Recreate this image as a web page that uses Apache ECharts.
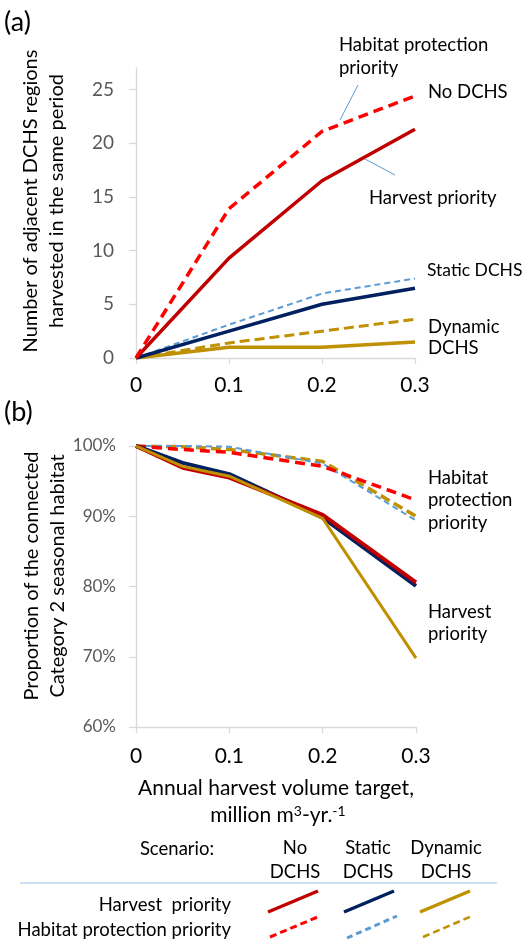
<!DOCTYPE html>
<html><head><meta charset="utf-8">
<script src="https://cdn.jsdelivr.net/npm/echarts@6/dist/echarts.min.js"></script>
<style>html,body{margin:0;padding:0;background:#fff}#c{width:526px;height:942px}</style>
</head><body><div id="c"></div>
<script>
// ---- data ----
const xA = [0, 0.1, 0.2, 0.3];
const xB = [0, 0.05, 0.1, 0.2, 0.3];
const xTicks = [0, 0.1, 0.2, 0.3];
const yTicksA = [0, 5, 10, 15, 20, 25];
const yTicksB = [60, 70, 80, 90, 100];
const scenarios = ['No DCHS', 'Static DCHS', 'Dynamic DCHS'];
// Panel (a): number of adjacent DCHS regions harvested in the same period
const aNoHarvest = [0, 9.3, 16.5, 21.3];
const aNoHabitat = [0, 13.9, 21.1, 24.4];
const aStaticHarvest = [0, 2.5, 5.0, 6.5];
const aStaticHabitat = [0, 3.1, 6.0, 7.4];
const aDynHarvest = [0, 1.0, 1.0, 1.5];
const aDynHabitat = [0, 1.4, 2.5, 3.6];
// Panel (b): proportion of connected Category 2 seasonal habitat (%)
const bNoHarvest = [100, 96.9, 95.5, 90.2, 80.6];
const bNoHabitat = [100, 99.5, 99.1, 97.1, 92.3];
const bStaticHarvest = [100, 97.6, 96.0, 89.8, 80.1];
const bStaticHabitat = [100, 100, 99.9, 97.5, 89.4];
const bDynHarvest = [100, 97.1, 95.7, 89.7, 69.8];
const bDynHabitat = [100, 99.9, 99.5, 97.8, 90.0];

const C_DR = '#C00000', C_R = '#FF0000', C_NV = '#002060', C_LB = '#5B9BD5', C_GD = '#BF9000';
const FF = 'Lato, "Open Sans", sans-serif';
const FS = '18.5px ' + FF;

function pts(xs, ys) { return xs.map((x, i) => [x, ys[i]]); }
function ser(idx, xs, ys, color, width, dash, z) {
  return { type: 'line', xAxisIndex: idx, yAxisIndex: idx, data: pts(xs, ys), symbol: 'none',
    smooth: false, z: z || 2, animation: false,
    lineStyle: { color: color, width: width, type: dash || 'solid', cap: 'butt', join: 'round' } };
}
const xFmt = v => (v === 0 ? '0' : (+v).toFixed(1));
function xAxisCfg(idx, margin) {
  return { type: 'value', gridIndex: idx, min: 0, max: 0.3, interval: 0.1,
    axisLine: { show: true, lineStyle: { color: '#D9D9D9', width: 1.3 } },
    axisTick: { show: true, length: 6, lineStyle: { color: '#D9D9D9', width: 1.3 } },
    splitLine: { show: false },
    axisLabel: { color: '#000', fontFamily: FF, fontSize: 21, margin: margin, formatter: xFmt,
      customValues: xTicks } };
}

const chart = echarts.init(document.getElementById('c'), null, { renderer: 'canvas' });
const txt = (x, y, s, o) => Object.assign({ type: 'text', x: x, y: y, silent: true,
  style: Object.assign({ text: s, fill: '#000', font: FS, textAlign: 'left', textVerticalAlign: 'middle' }, o || {}) });
const ln = (x1, y1, x2, y2, color, w, dash) => ({ type: 'line', silent: true, z: 10,
  shape: { x1: x1, y1: y1, x2: x2, y2: y2 },
  style: { stroke: color, lineWidth: w, lineDash: dash || null } });

chart.setOption({
  animation: false,
  backgroundColor: '#fff',
  grid: [
    { left: 136, top: 68, width: 279, height: 290 },
    { left: 136, top: 446, width: 280, height: 281 }
  ],
  xAxis: [xAxisCfg(0, 17), xAxisCfg(1, 19)],
  yAxis: [
    { type: 'value', gridIndex: 0, min: 0, max: 27, interval: 5,
      axisLine: { show: true, lineStyle: { color: '#D9D9D9', width: 1.3 } },
      axisTick: { show: true, length: 7, customValues: yTicksA, lineStyle: { color: '#D9D9D9', width: 1.3 } },
      splitLine: { show: false },
      axisLabel: { color: '#595959', fontFamily: FF, fontSize: 19, margin: 22, customValues: yTicksA } },
    { type: 'value', gridIndex: 1, min: 60, max: 100, interval: 10,
      axisLine: { show: true, lineStyle: { color: '#D9D9D9', width: 1.3 } },
      axisTick: { show: true, length: 7, customValues: yTicksB, lineStyle: { color: '#D9D9D9', width: 1.3 } },
      splitLine: { show: false },
      axisLabel: { color: '#595959', fontFamily: FF, fontSize: 17, margin: 20, customValues: yTicksB,
        formatter: v => v + '%' } }
  ],
  series: [
    ser(0, xA, aDynHarvest, C_GD, 3.5, null, 2),
    ser(0, xA, aDynHabitat, C_GD, 3, [10, 5], 3),
    ser(0, xA, aStaticHabitat, C_LB, 2, [6, 4], 3),
    ser(0, xA, aStaticHarvest, C_NV, 3.5, null, 4),
    ser(0, xA, aNoHarvest, C_DR, 3.5, null, 4),
    ser(0, xA, aNoHabitat, C_R, 3.5, [10, 6], 5),
    ser(1, xB, bDynHabitat, C_GD, 3.5, [10, 5], 2),
    ser(1, xB, bStaticHabitat, C_LB, 2, [6, 4], 3),
    ser(1, xB, bNoHabitat, C_R, 3.5, [10, 6], 3),
    ser(1, xB, bStaticHarvest, C_NV, 4, null, 4),
    ser(1, xB, bNoHarvest, C_DR, 4, null, 5),
    ser(1, xB, bDynHarvest, C_GD, 3, null, 6)
  ],
  graphic: [
    txt(4, 22, '(a)', { font: '27px ' + FF }),
    txt(4, 412, '(b)', { font: '27px ' + FF }),
    // axis names
    { type: 'text', x: 44, y: 201, rotation: Math.PI / 2, silent: true,
      style: { text: 'Number of adjacent DCHS regions\nharvested in the same period', fill: '#000',
        font: '20px ' + FF, textAlign: 'center', textVerticalAlign: 'middle', lineHeight: 26 } },
    { type: 'text', x: 45, y: 576, rotation: Math.PI / 2, silent: true,
      style: { text: 'Proportion of the connected\nCategory 2 seasonal habitat', fill: '#000',
        font: '20px ' + FF, textAlign: 'center', textVerticalAlign: 'middle', lineHeight: 26 } },
    // panel (a) annotations
    txt(339, 45, 'Habitat protection'),
    txt(339, 68, 'priority'),
    txt(428, 92, 'No DCHS'),
    txt(369, 198, 'Harvest priority'),
    txt(427, 270, 'Static DCHS', { font: '17.5px ' + FF }),
    txt(428, 327, 'Dynamic'),
    txt(428, 348, 'DCHS'),
    ln(358, 85, 340, 120, C_LB, 1),
    ln(365, 159, 395, 175, C_LB, 1),
    // panel (b) annotations
    txt(428, 478, 'Habitat'),
    txt(428, 500, 'protection'),
    txt(428, 523, 'priority'),
    txt(428, 612, 'Harvest'),
    txt(428, 634, 'priority'),
    // x axis title
    txt(276, 788, 'Annual harvest volume target,', { font: '21px ' + FF, textAlign: 'center' }),
    { type: 'text', x: 278, y: 815, silent: true,
      style: { text: '{n|million m}{s|3}{n|-yr.}{s|-1}', textAlign: 'center', textVerticalAlign: 'middle',
        rich: { n: { font: '21px ' + FF, fill: '#000' },
                s: { font: '14px ' + FF, fill: '#000', padding: [0, 0, 8, 0] } } } },
    // legend
    txt(177, 849, 'Scenario:', { textAlign: 'center' }),
    txt(295, 848, 'No', { textAlign: 'center' }),
    txt(295, 872, 'DCHS', { textAlign: 'center' }),
    txt(368, 848, 'Static', { textAlign: 'center' }),
    txt(368, 872, 'DCHS', { textAlign: 'center' }),
    txt(446, 848, 'Dynamic', { textAlign: 'center' }),
    txt(446, 872, 'DCHS', { textAlign: 'center' }),
    ln(20, 883, 497, 883, '#9DC3E6', 1.2),
    txt(231, 905, 'Harvest  priority', { textAlign: 'right' }),
    txt(231, 930, 'Habitat protection priority', { textAlign: 'right' }),
    ln(268, 912, 318, 891, C_DR, 3.5),
    ln(344, 912, 394, 891, C_NV, 3.5),
    ln(420, 912, 470, 891, C_GD, 3.5),
    ln(270, 937, 320, 916, C_R, 3, [7, 4]),
    ln(347, 938, 397, 916, C_LB, 3, [6, 4]),
    ln(423, 937, 472, 916, C_GD, 2.5, [7, 4])
  ]
});
</script>
</body></html>
